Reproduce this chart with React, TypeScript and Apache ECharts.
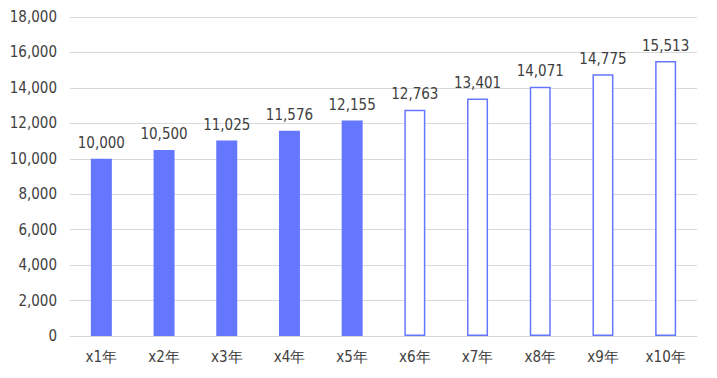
import React, { useEffect, useRef } from "react";
import * as echarts from "echarts";

const categories = ["x1年", "x2年", "x3年", "x4年", "x5年", "x6年", "x7年", "x8年", "x9年", "x10年"];
const values = [10000, 10500, 11025, 11576, 12155, 12763, 13401, 14071, 14775, 15513];
const actualCount = 5;

const BLUE = "#6677FF";
const FONT = "'DejaVu Sans Condensed', 'Noto Sans', sans-serif";

export default function App() {
  const ref = useRef<HTMLDivElement>(null);
  useEffect(() => {
    const chart = echarts.init(ref.current!, null, { renderer: "svg" });
    chart.setOption({
      animation: false,
      grid: { left: 70, right: 20, top: 17, bottom: 42 },
      xAxis: {
        type: "category",
        data: categories,
        axisTick: { show: false },
        axisLine: { lineStyle: { color: "#d9d9d9", width: 1 } },
        axisLabel: { color: "#404040", fontSize: 15, fontFamily: FONT, margin: 13 },
      },
      yAxis: {
        type: "value",
        min: 0,
        max: 18000,
        interval: 2000,
        axisLine: { show: false },
        axisTick: { show: false },
        splitLine: { lineStyle: { color: "#d9d9d9", width: 1 } },
        axisLabel: {
          color: "#404040",
          fontSize: 15,
          fontFamily: FONT,
          margin: 13,
          formatter: (v: number) => v.toLocaleString("en-US"),
        },
      },
      series: [
        {
          type: "bar",
          barWidth: 21,
          data: values.map((v, i) => ({
            value: v,
            itemStyle:
              i < actualCount
                ? { color: BLUE, borderColor: BLUE, borderWidth: 0 }
                : { color: "#ffffff", borderColor: BLUE, borderWidth: 1.5 },
          })),
          label: {
            show: true,
            position: "top",
            distance: 8,
            color: "#404040",
            fontSize: 15,
            fontFamily: FONT,
            formatter: (p: any) => Number(p.value).toLocaleString("en-US"),
          },
        },
      ],
    });
    return () => chart.dispose();
  }, []);
  return <div ref={ref} style={{ width: 717, height: 378, position: "absolute", left: 0, top: 0 }} />;
}
